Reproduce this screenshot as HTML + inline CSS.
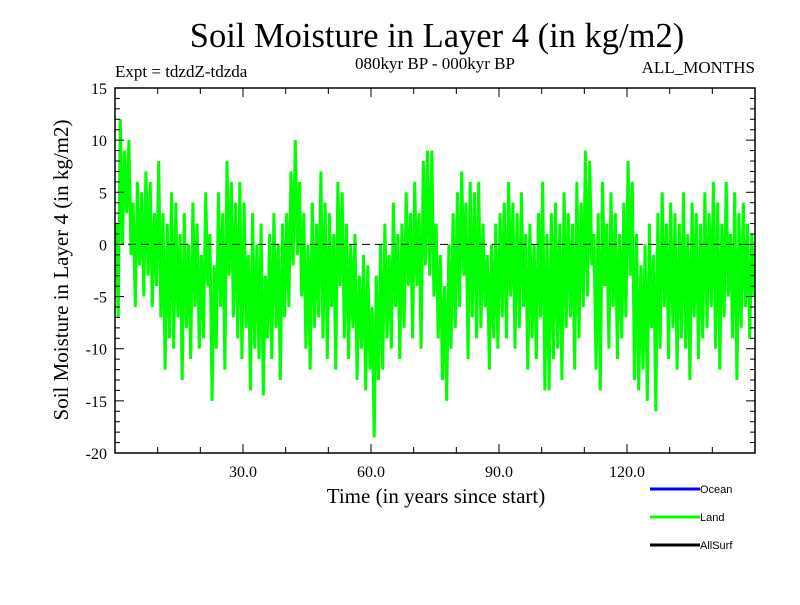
<!DOCTYPE html>
<html><head><meta charset="utf-8"><style>
body{margin:0;background:#fff}
svg text{font-family:"Liberation Serif",serif}
</style></head><body>
<svg id="c" width="800" height="600" xmlns="http://www.w3.org/2000/svg">
<rect width="800" height="600" fill="#fff"/>
<text x="437" y="47" font-size="34.5" text-anchor="middle">Soil Moisture in Layer 4 (in kg/m2)</text>
<text x="115" y="77" font-size="17">Expt = tdzdZ-tdzda</text>
<text x="435" y="69" font-size="17" text-anchor="middle">080kyr BP - 000kyr BP</text>
<text x="755" y="73" font-size="17" text-anchor="end">ALL_MONTHS</text>
<text transform="translate(68,270) rotate(-90)" font-size="21" text-anchor="middle">Soil Moisture in Layer 4 (in kg/m2)</text>
<text x="436" y="503" font-size="21" text-anchor="middle">Time (in years since start)</text>
<g id="plot"></g>
<g id="legend" font-size="11">
<line x1="650" y1="489" x2="700" y2="489" stroke="#0000ff" stroke-width="3"/>
<text x="700" y="493" style="font-family:'Liberation Sans',sans-serif">Ocean</text>
<line x1="650" y1="517" x2="700" y2="517" stroke="#00ff00" stroke-width="3"/>
<text x="700" y="521" style="font-family:'Liberation Sans',sans-serif">Land</text>
<line x1="650" y1="545" x2="700" y2="545" stroke="#000" stroke-width="3"/>
<text x="700" y="549" style="font-family:'Liberation Sans',sans-serif">AllSurf</text>
</g>
</svg>
<script>
const xTicks=[30,60,90,120];
const xTickLabels=["30.0","60.0","90.0","120.0"];
const yTicks=[15,10,5,0,-5,-10,-15,-20];
const yTickLabels=["15","10","5","0","-5","-10","-15","-20"];
const landValues=[
2,-7,12,0,9,3,10,-1,4,-6,6,-2,5,-5,7,-3,6,-6,3,-4,
8,-7,3,-12,2,-9,5,-10,4,-7,1,-13,3,-8,0,-11,4,-6,2,-10,
-1,-9,5,-4,1,-15,-2,-10,5,-6,3,-12,8,-3,6,-7,4,-9,6,-11,
4,-8,-1,-14,3,-10,0,-11,2,-14.5,-3,-9,1,-11,3,-8,0,-13,2,-7,
3,-6,7,-2,10,-1,6,-5,3,-10,0,-12,4,-8,2,-7,7,-9,4,-11,
3,-6,1,-12,6,-4,5,-9,2,-11,0,-8,1,-13,-3,-10,-1,-14,-2,-12,
-6,-18.5,-3,-13,0,-12,2,-9,-1,-10,4,-6,1,-11,2,-8,5,-4,3,-9,
6,-4,3,-10,8,-2,9,-3,9,-5,2,-9,-1,-13,-4,-15,0,-10,3,-8,
5,-6,7,-3,4,-11,6,-7,5,-9,6,-8,2,-6,-1,-12,0,-9,2,-10,
3,-7,4,-9,6,-5,4,-10,3,-8,5,-6,1,-12,2,-9,0,-11,3,-7,
6,-14,1,-14,3,-11,4,-10,2,-13,5,-8,3,-7,2,-12,6,-9,4,-6,
9,-5,8,-2,1,-12,3,-14,6,-4,2,-10,5,-6,3,-11,1,-9,4,-7,
8,-3,6,-13,1,-14,-2,-12,0,-15,2,-8,-1,-16,3,-10,5,-6,2,-11,
4,-8,3,-12,2,-9,5,-10,1,-13,4,-7,3,-11,2,-9,5,-8,3,-6,
6,-10,4,-12,2,-7,6,-5,1,-9,5,-13,3,-8,4,-6,2,-9,1,-5];
const X0=115,X1=755,Y0=88,Y1=453,XMIN=0,XMAX=150,YMIN=-20,YMAX=15;
const sx=v=>X0+(v-XMIN)/(XMAX-XMIN)*(X1-X0);
const sy=v=>Y0+(YMAX-v)/(YMAX-YMIN)*(Y1-Y0);
const NS="http://www.w3.org/2000/svg";
const g=document.getElementById('plot');
function mk(t,a){const e=document.createElementNS(NS,t);for(const k in a)e.setAttribute(k,a[k]);g.appendChild(e);return e;}
const step=(XMAX-XMIN)/landValues.length;
const pts=landValues.map((v,i)=>sx(XMIN+i*step+step/2).toFixed(1)+','+sy(v).toFixed(1)).join(' ');
const line=mk('polyline',{points:pts,fill:'none',stroke:'#00ff00','stroke-width':3,'stroke-linejoin':'miter'});


const z=mk('line',{x1:X0,x2:X1,y1:sy(0),y2:sy(0),stroke:'#000','stroke-dasharray':'8,5','stroke-width':1});


const fr=mk('rect',{x:X0,y:Y0,width:X1-X0,height:Y1-Y0,fill:'none',stroke:'#000','stroke-width':1.5});


for(let v=10;v<XMAX;v+=10){const maj=v%30===0;const L=maj?9:6;
mk('line',{x1:sx(v),x2:sx(v),y1:Y1,y2:Y1-L,stroke:'#000'});
mk('line',{x1:sx(v),x2:sx(v),y1:Y0,y2:Y0+L,stroke:'#000'});}
xTicks.forEach((v,i)=>{const t=mk('text',{x:sx(v),y:Y1+24,'font-size':16,'text-anchor':'middle'});t.textContent=xTickLabels[i];

});
for(let v=YMIN+1;v<YMAX;v++){const maj=v%5===0;const L=maj?9:5;
mk('line',{x1:X0,x2:X0+L,y1:sy(v),y2:sy(v),stroke:'#000'});
mk('line',{x1:X1,x2:X1-L,y1:sy(v),y2:sy(v),stroke:'#000'});}
yTicks.forEach((v,i)=>{const t=mk('text',{x:X0-8,y:sy(v)+6,'font-size':16,'text-anchor':'end'});t.textContent=yTickLabels[i];

});
</script>
</body></html>
